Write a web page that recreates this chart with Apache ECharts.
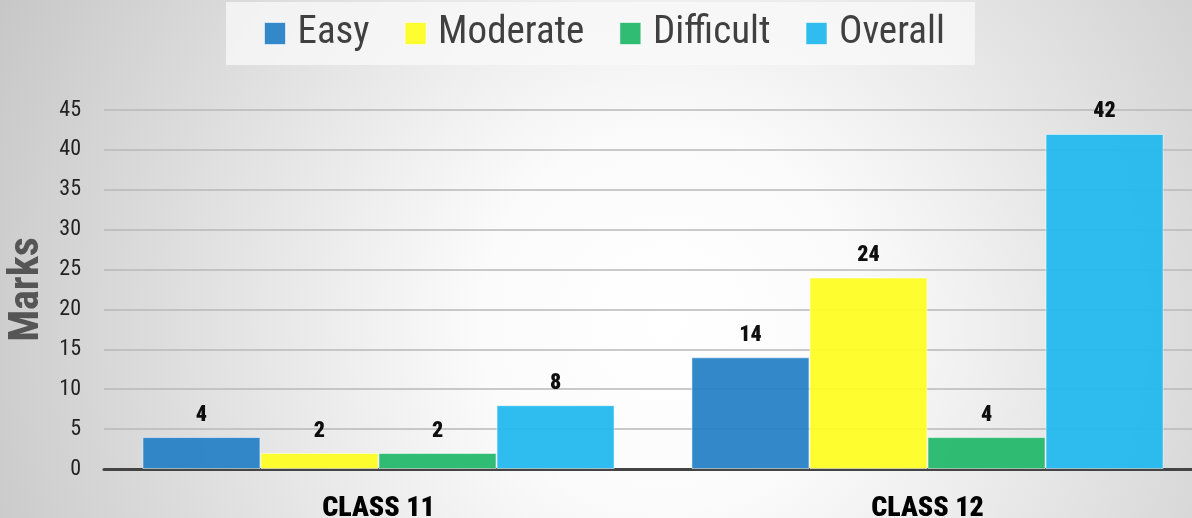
<!DOCTYPE html>
<html>
<head>
<meta charset="utf-8">
<script src="https://cdn.jsdelivr.net/npm/echarts@6/dist/echarts.min.js"></script>
<style>
    html, body { margin: 0; padding: 0; }
    #chart { width: 1192px; height: 518px; }
</style>
</head>
<body>
<div id="chart"></div>
<script>
    // data
    const categories = ['CLASS 11', 'CLASS 12'];
    const seriesNames = ['Easy', 'Moderate', 'Difficult', 'Overall'];
    const easy = [4, 14];
    const moderate = [2, 24];
    const difficult = [2, 4];
    const overall = [8, 42];
    const yTicks = [0, 5, 10, 15, 20, 25, 30, 35, 40, 45];

    const values = [easy, moderate, difficult, overall];
    const colors = ['#2681c7', '#fdfd22', '#24b86a', '#22b8ed'];
    const condensed = '"Roboto Condensed", "Liberation Sans Narrow", "DejaVu Sans Condensed", Roboto, sans-serif';

    const myChart = echarts.init(document.getElementById('chart'));

    const series = [];
    for (let i = 0; i < seriesNames.length; i++) {
        series.push({
            name: seriesNames[i],
            type: 'bar',
            data: values[i],
            barGap: '0%',
            barCategoryGap: '14%',
            itemStyle: {
                color: colors[i],
                opacity: 0.94,
                borderColor: 'rgba(255,255,255,0.55)',
                borderWidth: 1
            },
            label: {
                show: true,
                position: 'top',
                distance: 11,
                color: '#000',
                fontWeight: 900,
                fontSize: 22,
                fontFamily: condensed
            }
        });
    }

    const option = {
        animation: false,
        backgroundColor: {
            type: 'radial',
            x: 0.56, y: 0.62, r: 1.45,
            colorStops: [
                { offset: 0, color: '#ffffff' },
                { offset: 0.25, color: '#fbfbfb' },
                { offset: 1, color: '#c6c6c6' }
            ]
        },
        textStyle: { fontFamily: condensed },
        legend: {
            top: 2,
            left: 226,
            itemWidth: 21,
            itemHeight: 22,
            itemGap: 35,
            padding: [12, 30, 12, 38],
            backgroundColor: 'rgba(250,250,250,0.75)',
            icon: 'rect',
            itemStyle: { borderColor: 'rgba(255,255,255,0.6)', borderWidth: 1 },
            textStyle: { fontSize: 39, color: '#404040', fontFamily: condensed, padding: [0, 0, 0, 7] },
            data: seriesNames
        },
        grid: {
            left: 104,
            width: 1098,
            top: 110,
            bottom: 49,
            containLabel: false,
            outerBoundsMode: 'none'
        },
        xAxis: {
            type: 'category',
            data: categories,
            axisTick: { show: false },
            axisLine: { lineStyle: { color: '#444', width: 3 } },
            axisLabel: {
                margin: 26,
                color: '#000',
                fontWeight: 900,
                fontSize: 28,
                fontFamily: condensed
            }
        },
        yAxis: {
            type: 'value',
            min: yTicks[0],
            max: yTicks[yTicks.length - 1],
            interval: yTicks[1] - yTicks[0],
            name: 'Marks',
            nameLocation: 'middle',
            nameGap: 54,
            nameTextStyle: {
                fontSize: 42,
                fontWeight: 'bold',
                color: '#555',
                fontFamily: condensed
            },
            axisLine: { show: false },
            axisTick: { show: false },
            axisLabel: {
                margin: 23,
                color: '#222',
                fontSize: 22,
                fontFamily: condensed
            },
            splitLine: { lineStyle: { color: '#b9b9b9', width: 1.5 } }
        },
        series: series
    };

    myChart.setOption(option);
    window.onresize = () => {
        myChart.resize();
    };
</script>
</body>
</html>
